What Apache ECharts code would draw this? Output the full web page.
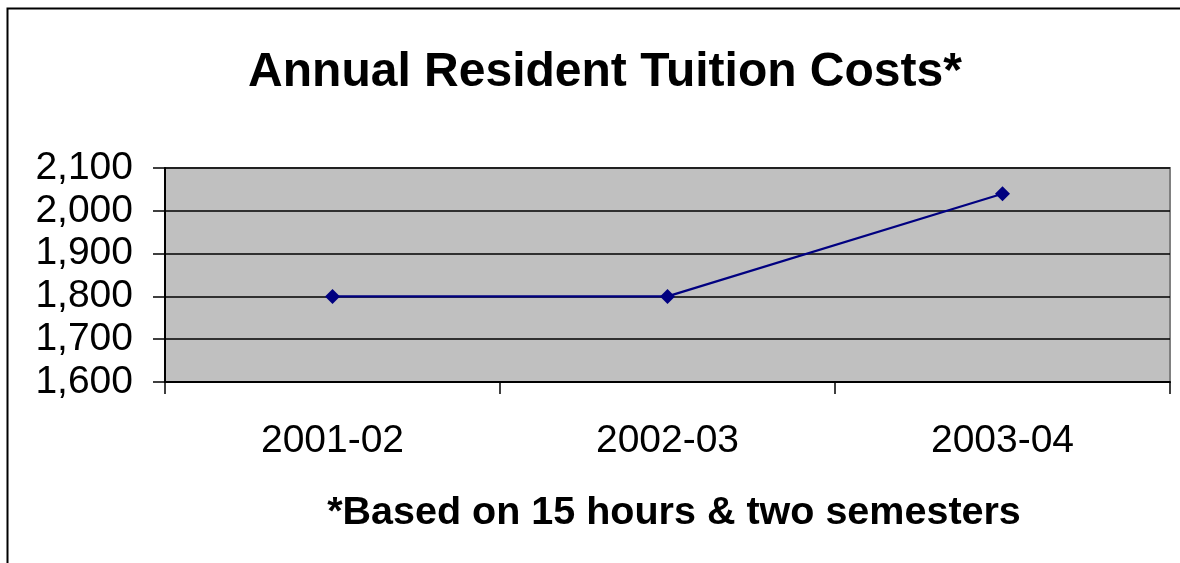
<!DOCTYPE html>
<html><head><meta charset="utf-8">
<script src="https://cdn.jsdelivr.net/npm/echarts@6/dist/echarts.min.js"></script>
<style>html,body{margin:0;padding:0;background:#fff}#c{width:1180px;height:563px}</style>
</head><body><div id="c"></div>
<script>
const categories = ['2001-02', '2002-03', '2003-04'];
const tuition = [1800, 1800, 2040];
const yTicks = [1600, 1700, 1800, 1900, 2000, 2100];

const chart = echarts.init(document.getElementById('c'));
const F = '"Liberation Sans", Arial, sans-serif';
chart.setOption({
  animation: false,
  backgroundColor: '#fff',
  graphic: [{
    type: 'rect', shape: {x: 7.5, y: 8.5, width: 1200, height: 600},
    style: {fill: 'none', stroke: '#000', lineWidth: 2}, silent: true, z: 0
  }],
  title: [{
    text: 'Annual Resident Tuition Costs*', left: 600, top: 44, textAlign: 'center',
    textStyle: {fontFamily: F, fontSize: 48, fontWeight: 'bold', color: '#000'}
  }, {
    text: '*Based on 15 hours & two semesters', left: 669, top: 488, textAlign: 'center',
    textStyle: {fontFamily: F, fontSize: 39.5, fontWeight: 'bold', color: '#000'}
  }],
  grid: {left: 165, top: 168, right: 10, height: 214, show: true,
    backgroundColor: '#c0c0c0', borderColor: '#808080', borderWidth: 2},
  xAxis: {
    type: 'category', data: categories, boundaryGap: true,
    axisLine: {lineStyle: {color: '#000', width: 2}},
    axisTick: {show: true, length: 12, lineStyle: {color: '#000', width: 1.5}},
    axisLabel: {margin: 40, fontFamily: F, fontSize: 39, color: '#000'}
  },
  yAxis: {
    type: 'value', min: yTicks[0], max: yTicks[yTicks.length - 1], interval: 100,
    axisLine: {show: true, lineStyle: {color: '#000', width: 2}},
    axisTick: {show: true, length: 12, lineStyle: {color: '#000', width: 1.5}},
    splitLine: {show: true, lineStyle: {color: '#000', width: 1.5}},
    axisLabel: {margin: 32, fontFamily: F, fontSize: 39, color: '#000', padding: [6, 0, 0, 0],
      formatter: v => v.toLocaleString('en-US')}
  },
  series: [{
    type: 'line', data: tuition, symbol: 'diamond', symbolSize: 15,
    lineStyle: {color: '#000080', width: 2.2}, itemStyle: {color: '#000080'}, z: 5
  }]
});
</script></body></html>
